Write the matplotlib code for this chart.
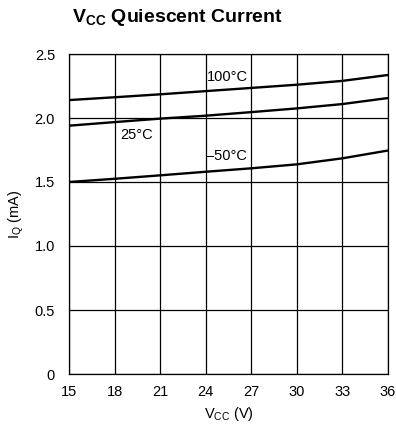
import matplotlib
matplotlib.use("Agg")
import matplotlib.pyplot as plt
from matplotlib import font_manager as fm

names = {f.name for f in fm.fontManager.ttflist}
narrow = "Liberation Sans Narrow" if "Liberation Sans Narrow" in names else "Liberation Sans"
plt.rcParams['font.family'] = [narrow, 'DejaVu Sans']

vcc = [15, 18, 21, 24, 27, 30, 33, 36]
iq_100 = [2.14, 2.162, 2.185, 2.21, 2.235, 2.26, 2.29, 2.336]
iq_25 = [1.94, 1.968, 1.995, 2.018, 2.046, 2.075, 2.109, 2.156]
iq_m50 = [1.50, 1.525, 1.552, 1.58, 1.607, 1.638, 1.685, 1.746]
xticks = [15, 18, 21, 24, 27, 30, 33, 36]
yticks = [0, 0.5, 1.0, 1.5, 2.0, 2.5]
yticklabels = ["0", "0.5", "1.0", "1.5", "2.0", "2.5"]

fig = plt.figure(figsize=(3.96, 4.30), dpi=100)
ax = fig.add_axes([69/396, 1-374/430, (388-69)/396, (374-54)/430])

for y in (iq_100, iq_25, iq_m50):
    ax.plot(vcc, y, color='black', lw=1.7, solid_capstyle='butt',
            solid_joinstyle='round', zorder=3)

ax.set_xlim(15, 36)
ax.set_ylim(0, 2.5)
ax.set_xticks(xticks)
ax.set_yticks(yticks)
ax.set_yticklabels(yticklabels)
ax.grid(True, color='black', lw=0.9)
for s in ax.spines.values():
    s.set_linewidth(0.9)
ax.tick_params(length=0, labelsize=10.5, pad=8)
ax.tick_params(axis='y', pad=10)

ax.text(24.05, 2.32, "100°C", fontsize=10.5, va='center', ha='left')
ax.text(18.4, 1.865, "25°C", fontsize=10.5, va='center', ha='left')
ax.text(24.0, 1.70, "–50°C", fontsize=10.5, va='center', ha='left')

ax.set_xlabel(r"V$_{\mathregular{CC}}$ (V)", fontsize=10.5, labelpad=4)
ax.set_ylabel(r"I$_{\mathregular{Q}}$ (mA)", fontsize=10.5, labelpad=6)

fig.text(72/396, 1-17/430, r"V$_{\mathregular{CC}}$ Quiescent Current", fontsize=14,
         fontweight='bold', va='center', ha='left')

fig.savefig("out.png", dpi=100)
